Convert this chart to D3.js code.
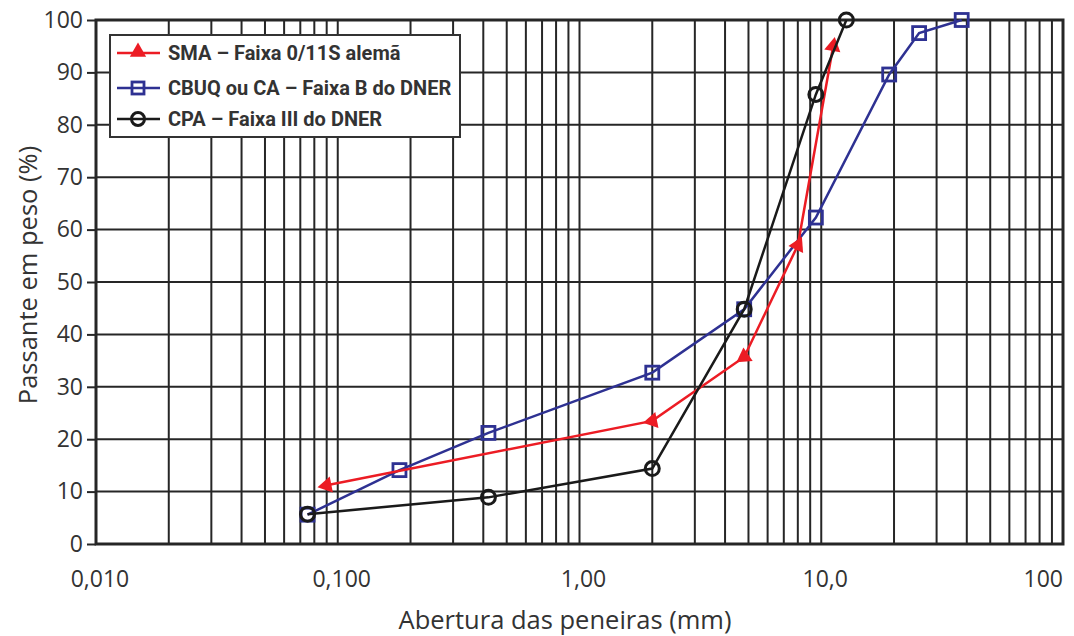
<!DOCTYPE html>
<html>
<head>
<meta charset="utf-8">
<script src="https://cdn.jsdelivr.net/npm/d3@7"></script>
<style>
  body { margin: 0; background: #fff; }
  svg { display: block; }
</style>
</head>
<body>
<svg id="chart"></svg>
<script>
// curvas granulometricas (abertura em mm, % passante)
var smaSieves  = [0.09, 2.0, 4.8, 8.0, 11.2];
var smaPass    = [11.2, 23.5, 35.7, 57.0, 95.0];
var cbuqSieves = [0.075, 0.18, 0.42, 2.0, 4.8, 9.5, 19.1, 25.4, 38.1];
var cbuqPass   = [5.6, 14.1, 21.2, 32.7, 44.8, 62.3, 89.6, 97.5, 100];
var cpaSieves  = [0.075, 0.42, 2.0, 4.8, 9.5, 12.7];
var cpaPass    = [5.7, 8.9, 14.4, 44.8, 85.8, 100];

var seriesNames = ["SMA – Faixa 0/11S alemã", "CBUQ ou CA – Faixa B do DNER", "CPA – Faixa III do DNER"];
var xTickValues = [0.01, 0.1, 1, 10, 100];
var xTickLabels = ["0,010", "0,100", "1,00", "10,0", "100"];
var yTickValues = [0, 10, 20, 30, 40, 50, 60, 70, 80, 90, 100];

var W = 1074, H = 636;
var margin = {top: 20, right: 11, bottom: 92, left: 96};

var svg = d3.select("#chart").attr("width", W).attr("height", H);

var x = d3.scaleLog().domain([0.01, 100]).range([margin.left, W - margin.right]);
var y = d3.scaleLinear().domain([0, 100]).range([H - margin.bottom, margin.top]);

var gridColor = "#262626";
var txtColor = "#333";

// grade vertical: 1..9 em cada decada
var vlines = [];
[0.01, 0.1, 1, 10].forEach(function(d){
    for (var k = 1; k <= 9; k++) vlines.push(d * k);
});
svg.append("g").selectAll("line").data(vlines).enter().append("line")
    .attr("x1", d => x(d)).attr("x2", d => x(d))
    .attr("y1", y(0)).attr("y2", y(100))
    .attr("stroke", gridColor).attr("stroke-width", 2);

svg.append("g").selectAll("line").data(yTickValues).enter().append("line")
    .attr("x1", x(0.01)).attr("x2", x(100))
    .attr("y1", d => y(d)).attr("y2", d => y(d))
    .attr("stroke", gridColor).attr("stroke-width", 2);

// moldura
svg.append("rect")
    .attr("x", x(0.01)).attr("y", y(100))
    .attr("width", x(100) - x(0.01)).attr("height", y(0) - y(100))
    .attr("fill", "none").attr("stroke", gridColor).attr("stroke-width", 3);

// eixo y
var yAxis = d3.axisLeft(y).tickValues(yTickValues).tickSize(9).tickPadding(4);
var gy = svg.append("g").attr("transform", `translate(${x(0.01)},0)`).call(yAxis);
gy.select(".domain").remove();
gy.selectAll(".tick line").attr("stroke", gridColor).attr("stroke-width", 2);
gy.selectAll(".tick text")
    .attr("fill", txtColor)
    .style("font-family", "'Open Sans', sans-serif")
    .style("font-size", "23px");

// eixo x (so rotulos)
svg.append("g").selectAll("text").data(xTickValues).enter().append("text")
    .attr("x", (d, i) => i == xTickValues.length - 1 ? x(d) : x(d) + 4)
    .attr("y", y(0) + 43)
    .attr("text-anchor", (d, i) => i == xTickValues.length - 1 ? "end" : "middle")
    .attr("fill", txtColor)
    .style("font-family", "'Open Sans', sans-serif")
    .style("font-size", "23px")
    .text((d, i) => xTickLabels[i]);

svg.append("text")
    .attr("x", 565).attr("y", 629)
    .attr("text-anchor", "middle")
    .attr("fill", txtColor)
    .style("font-family", "'Open Sans', sans-serif")
    .style("font-size", "25.5px")
    .text("Abertura das peneiras (mm)");

svg.append("text")
    .attr("transform", "translate(37,275) rotate(-90)")
    .attr("text-anchor", "middle")
    .attr("fill", txtColor)
    .style("font-family", "'Open Sans', sans-serif")
    .style("font-size", "25.5px")
    .text("Passante em peso (%)");

// series
var red = "#ec1c24", blue = "#2e3192", black = "#1a1a1a";
function toPts(sv, pv) { return sv.map((s, i) => ({x: s, y: pv[i]})); }
var sma = toPts(smaSieves, smaPass);
var cbuq = toPts(cbuqSieves, cbuqPass);
var cpa = toPts(cpaSieves, cpaPass);

var line = d3.line().x(d => x(d.x)).y(d => y(d.y));

function drawLine(pts, color) {
    svg.append("path").datum(pts)
        .attr("d", line)
        .attr("fill", "none").attr("stroke", color).attr("stroke-width", 2.5);
}

var tri = d3.symbol().type(d3.symbolTriangle).size(115);

// triangulos orientados ao longo da linha
function triAngle(pts, i) {
    var a, b;
    if (i == 0) { a = pts[1]; b = pts[0]; }
    else { a = pts[i - 1]; b = pts[i]; }
    var dx = x(b.x) - x(a.x), dy = y(b.y) - y(a.y);
    if (i > 0 && Math.abs(dy) < Math.abs(dx)) { dx = -dx; dy = -dy; }
    return Math.atan2(dx, -dy) * 180 / Math.PI;
}

drawLine(cbuq, blue);
svg.append("g").selectAll("rect").data(cbuq).enter().append("rect")
    .attr("x", d => x(d.x) - 6.5).attr("y", d => y(d.y) - 6.5)
    .attr("width", 13).attr("height", 13)
    .attr("fill", "none").attr("stroke", blue).attr("stroke-width", 2.8);

drawLine(sma, red);
svg.append("g").selectAll("path").data(sma).enter().append("path")
    .attr("d", tri)
    .attr("transform", (d, i) => `translate(${x(d.x)},${y(d.y)}) rotate(${triAngle(sma, i)})`)
    .attr("fill", red);

drawLine(cpa, black);
svg.append("g").selectAll("circle").data(cpa).enter().append("circle")
    .attr("cx", d => x(d.x)).attr("cy", d => y(d.y)).attr("r", 7)
    .attr("fill", "none").attr("stroke", black).attr("stroke-width", 3);

// legenda
var lg = svg.append("g");
lg.append("rect")
    .attr("x", 110).attr("y", 35).attr("width", 350).attr("height", 102)
    .attr("fill", "#fff").attr("stroke", "#333").attr("stroke-width", 2);

var legColors = [red, blue, black];
var legY = [53, 88, 119];
seriesNames.forEach(function(name, i){
    var cy = legY[i];
    lg.append("line").attr("x1", 117).attr("x2", 160).attr("y1", cy).attr("y2", cy)
        .attr("stroke", legColors[i]).attr("stroke-width", 2.5);
    if (i == 0) {
        lg.append("path").attr("d", tri).attr("transform", `translate(138,${cy - 1})`).attr("fill", red);
    } else if (i == 1) {
        lg.append("rect").attr("x", 132).attr("y", cy - 6).attr("width", 12).attr("height", 12)
            .attr("fill", "none").attr("stroke", blue).attr("stroke-width", 2.8);
    } else {
        lg.append("circle").attr("cx", 138).attr("cy", cy).attr("r", 6.5)
            .attr("fill", "none").attr("stroke", black).attr("stroke-width", 3);
    }
    lg.append("text")
        .attr("x", 168).attr("y", cy + 7)
        .attr("fill", "#333")
        .style("font-family", "'Roboto', sans-serif")
        .style("font-weight", "bold")
        .style("font-size", "20px")
        .text(name);
});
</script>
</body>
</html>
